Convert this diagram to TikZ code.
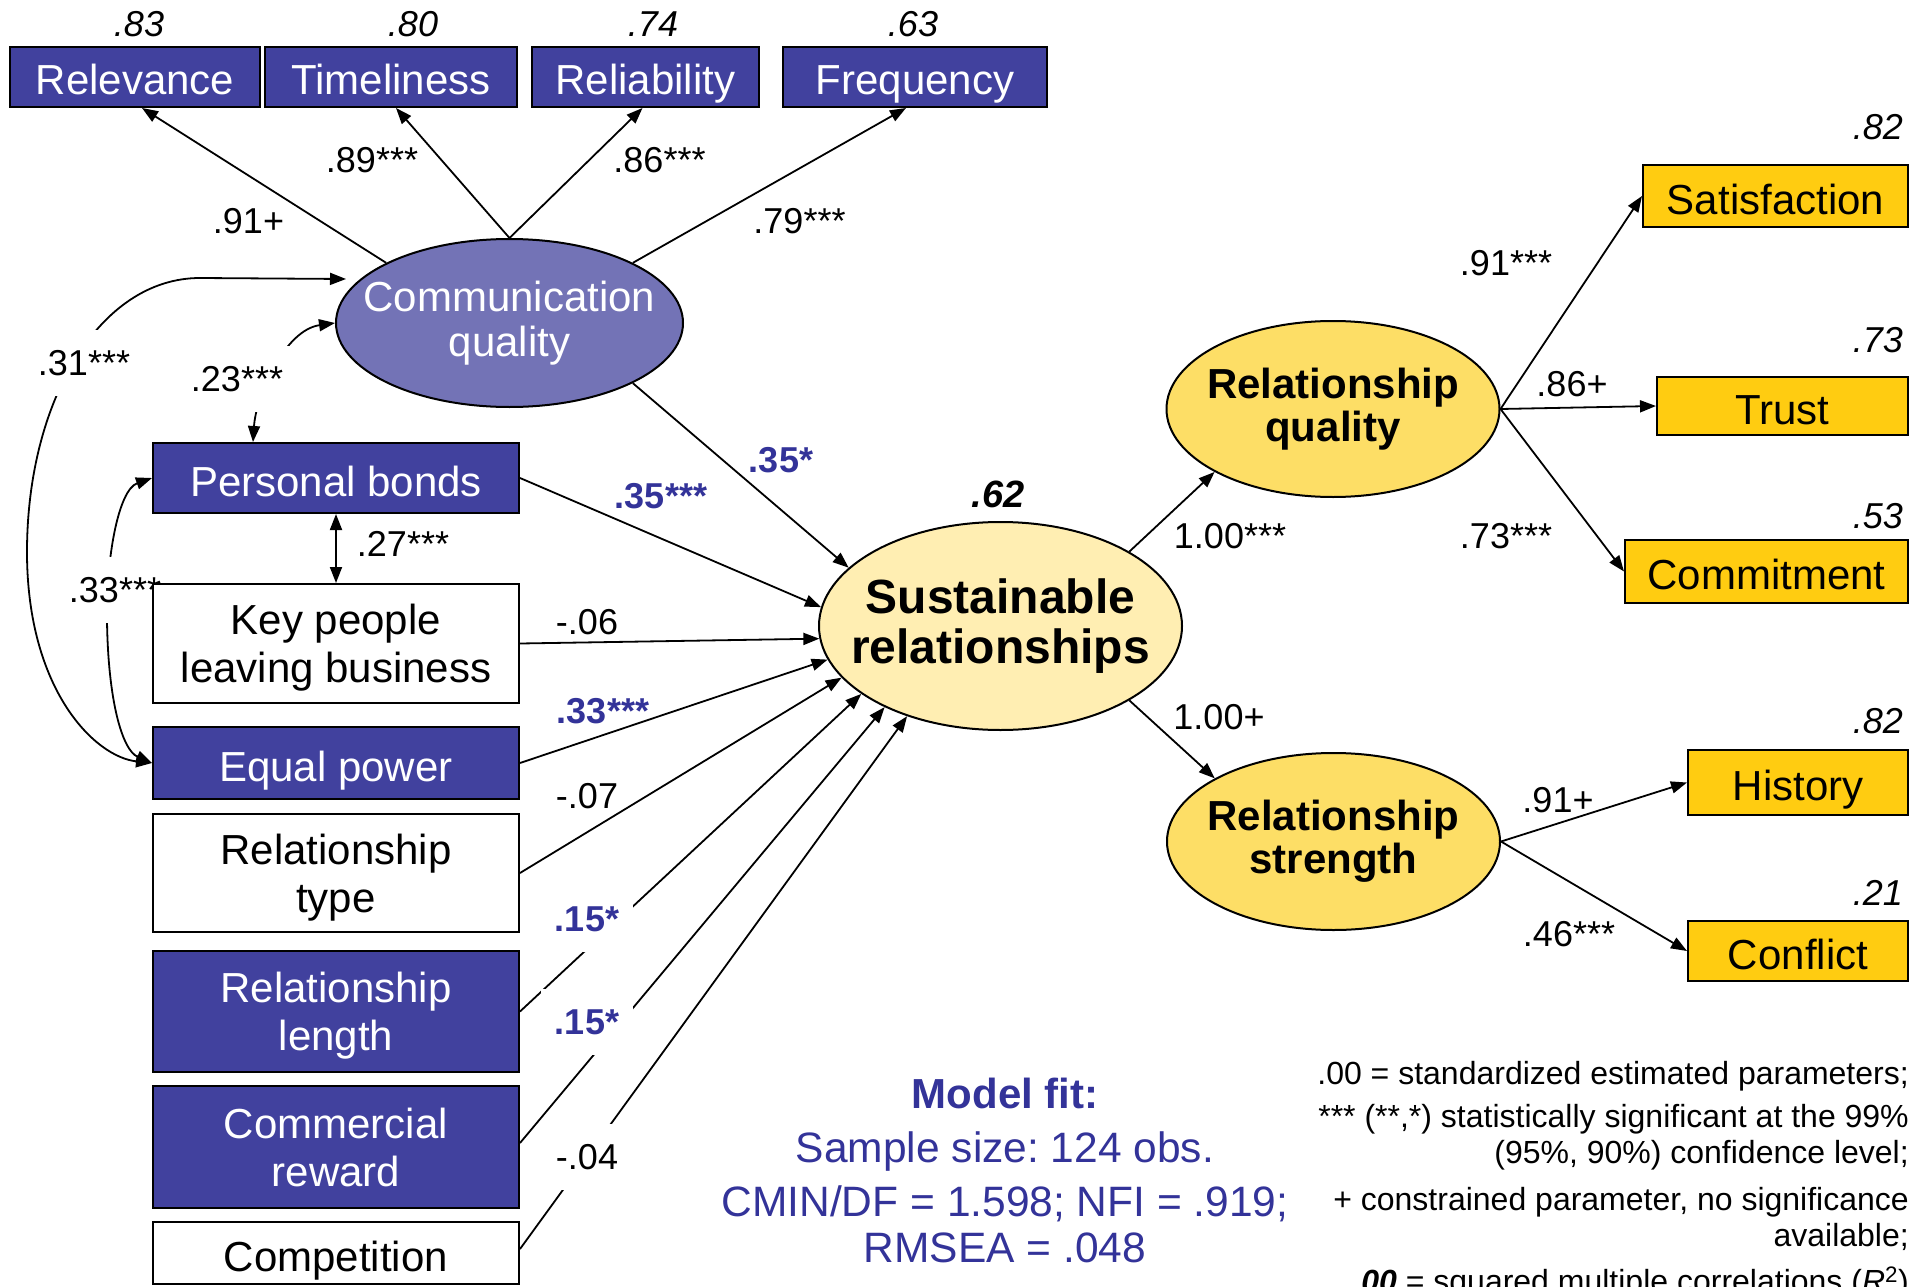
\documentclass[tikz,border=0pt]{standalone}
\usepackage{fontspec}
\setmainfont{Liberation Sans}
\usetikzlibrary{shapes.geometric,arrows.meta}
\definecolor{navy}{RGB}{65,65,158}
\definecolor{cqfill}{RGB}{115,115,182}
\definecolor{gold}{RGB}{255,204,17}
\definecolor{latfill}{RGB}{253,222,102}
\definecolor{srfill}{RGB}{255,238,178}
\definecolor{blutext}{RGB}{51,51,153}
\pgfdeclarelayer{bg}
\pgfsetlayers{bg,main}
\frenchspacing
\newcommand{\fsz}[2]{\fontsize{#1}{#2}\selectfont}
\tikzset{
  box/.style={draw=black, line width=2pt, inner sep=0pt, align=center, font=\fsz{42}{48}},
  navybox/.style={box, fill=navy, text=white},
  whitebox/.style={box, fill=white},
  goldbox/.style={box, fill=gold},
  oneline/.style={text height=36pt, text depth=0pt},
  twoline/.style={text depth=0pt},
  latent/.style={ellipse, draw=black, line width=2pt, inner sep=0pt},
  lattext/.style={align=center, inner sep=0pt},
  conn/.style={line width=1.8pt, -{Triangle[length=16pt,width=12pt]}},
  cov/.style={line width=1.8pt, {Triangle[length=16pt,width=12pt]}-{Triangle[length=16pt,width=12pt]}},
  coef/.style={font=\fsz{36}{40}, inner sep=0pt},
  sig/.style={font=\bfseries\fsz{36}{40}, text=blutext, inner sep=0pt},
  cut/.style={fill=white, inner xsep=14pt, inner ysep=20pt},
  rsq/.style={font=\itshape\fsz{36}{40}, inner sep=0pt},
  fittext/.style={font=\fsz{42.5}{46}, text=blutext, anchor=base},
  legendtxt/.style={font=\fsz{32}{36}, anchor=base east, inner sep=0pt},
}
\begin{document}
\begin{tikzpicture}[x=1pt,y=-1pt]
\useasboundingbox (0,0) rectangle (1923,1287);
\clip (0,0) rectangle (1923,1287);

% communication indicators
\node[navybox, oneline, minimum width=250pt, minimum height=60pt] (rel) at (135,77) {Relevance};
\node[navybox, oneline, minimum width=252pt, minimum height=60pt] (tim) at (391,77) {Timeliness};
\node[navybox, oneline, minimum width=227pt, minimum height=60pt] (reli) at (645.5,77) {Reliability};
\node[navybox, oneline, minimum width=264pt, minimum height=60pt] (freq) at (915,77) {Frequency};
\node[rsq, anchor=base] (r2rel) at (139,37) {.83};
\node[rsq, anchor=base] (r2tim) at (413,37) {.80};
\node[rsq, anchor=base] (r2reli) at (653,37) {.74};
\node[rsq, anchor=base] (r2freq) at (913,37) {.63};

% communication quality
\node[latent, fill=cqfill, minimum width=347pt, minimum height=168pt] (cq) at (509.5,323) {};
\node[lattext, text=white, font=\fsz{42}{45}] (cqt) at (cq.center) {Communication\\quality};

% antecedents
\node[navybox, oneline, minimum width=366pt, minimum height=70pt] (pb) at (336,478) {Personal bonds};
\node[whitebox, twoline, minimum width=366pt, minimum height=119pt] (kp) at (336,643.5) {Key people\\leaving business};
\node[navybox, oneline, minimum width=366pt, minimum height=72pt] (ep) at (336,763) {Equal power};
\node[whitebox, twoline, minimum width=366pt, minimum height=118pt] (rt) at (336,873) {Relationship\\type};
\node[navybox, twoline, minimum width=366pt, minimum height=121pt] (rl) at (336,1011.5) {Relationship\\length};
\node[navybox, twoline, minimum width=366pt, minimum height=122pt] (cr) at (336,1147) {Commercial\\reward};
\node[whitebox, oneline, minimum width=366pt, minimum height=62pt] (comp) at (336,1253) {Competition};

% sustainable relationships
\node[latent, fill=srfill, minimum width=363pt, minimum height=208pt] (sr) at (1000.5,626) {};
\node[lattext, font=\bfseries\fsz{48}{50}] (srt) at (sr.center) {Sustainable\\relationships};
\node[font=\bfseries\itshape\fsz{38}{40}, inner sep=0pt] (r2sr) at (998,494) {.62};

% relationship quality / strength
\node[latent, fill=latfill, minimum width=333pt, minimum height=176pt] (rq) at (1333,409) {};
\node[lattext, font=\bfseries\fsz{42}{43}] (rqt) at (rq.center) {Relationship\\quality};
\node[latent, fill=latfill, minimum width=333pt, minimum height=177pt] (rs) at (1333.5,841.5) {};
\node[lattext, font=\bfseries\fsz{42}{43}] (rst) at (rs.center) {Relationship\\strength};

% outcome indicators
\node[goldbox, oneline, minimum width=265pt, minimum height=62pt] (sat) at (1775.5,196) {Satisfaction};
\node[goldbox, oneline, minimum width=251pt, minimum height=58pt] (tru) at (1782.5,406) {Trust};
\node[goldbox, oneline, minimum width=283pt, minimum height=63pt] (com) at (1766.5,571.5) {Commitment};
\node[goldbox, oneline, minimum width=220pt, minimum height=65pt] (his) at (1798,782.5) {History};
\node[goldbox, oneline, minimum width=220pt, minimum height=60pt] (con) at (1798,951) {Conflict};
\node[rsq, anchor=base east] (r2sat) at (1903,140) {.82};
\node[rsq, anchor=base east] (r2tru) at (1903,352) {.73};
\node[rsq, anchor=base east] (r2com) at (1903,528) {.53};
\node[rsq, anchor=base east] (r2his) at (1903,733) {.82};
\node[rsq, anchor=base east] (r2con) at (1903,905) {.21};

% model fit
\node[fittext, font=\bfseries\fsz{42}{46}] (mf) at (1005,1108) {Model fit:};
\node[fittext] (mf1) at (1005,1162) {Sample size: 124 obs.};
\node[fittext] (mf2) at (1005,1216) {CMIN/DF = 1.598; NFI = .919;};
\node[fittext] (mf3) at (1005,1262) {RMSEA = .048};

% legend
\node[legendtxt] (lg1) at (1909,1084) {.00 = standardized estimated parameters;};
\node[legendtxt] (lg2) at (1909,1127) {*** (**,*) statistically significant at the 99\%};
\node[legendtxt] (lg3) at (1909,1163) {(95\%, 90\%) confidence level;};
\node[legendtxt] (lg4) at (1909,1210) {+ constrained parameter, no significance};
\node[legendtxt] (lg5) at (1909,1246) {available;};
\node[legendtxt] (lg6) at (1909,1292) {{\bfseries\itshape .00} = squared multiple correlations (\textit{R}\textsuperscript{2})};

\begin{pgfonlayer}{bg}
% measurement paths
\draw[conn] (cq.154) -- ([xshift=7pt]rel.south);
\draw[conn] (cq.north) -- ([xshift=5pt]tim.south);
\draw[conn] (cq.north) -- ([xshift=-3pt]reli.south);
\draw[conn] (cq.26) -- ([xshift=-9pt]freq.south);
% structural paths
\draw[conn] (cq.-26) -- (sr.159);
\draw[conn] (pb.east) -- (sr.174);
\draw[conn] (kp.east) -- (sr.184);
\draw[conn] (ep.east) -- (sr.191);
\draw[conn] (rt.east) -- (sr.198);
\draw[conn] (rl.east) -- (sr.206);
\draw[conn] ([yshift=4pt]cr.east) -- (sr.215);
\draw[conn] ([yshift=4pt]comp.east) -- (sr.224);
\draw[conn] (sr.30) -- (rq.208);
\draw[conn] (sr.-30) -- (rs.152);
\draw[conn] (rq.east) -- (sat.west);
\draw[conn] (rq.east) -- (tru.west);
\draw[conn] (rq.east) -- (com.west);
\draw[conn] (rs.east) -- (his.west);
\draw[conn] (rs.east) -- (con.west);
% covariances
\coordinate (cqin) at (346,279);
\draw[cov] (ep.west) .. controls (95,757) and (27,690) .. (27,552) .. controls (27,400) and (100,278) .. (200,278) -- (cqin);
\draw[cov] (pb.west) .. controls (118,490) and (106,560) .. (107,620) .. controls (108,700) and (122,750) .. (ep.west);
\draw[cov] ([xshift=-83pt]pb.north) .. controls (256,395) and (285,330) .. (cq.west);
\draw[cov] (pb.south) -- (kp.north);
% coefficients
\node[coef] (l91) at (248.5,221) {.91+};
\node[coef] (l89) at (372,160) {.89***};
\node[coef] (l86) at (659.5,160) {.86***};
\node[coef] (l79) at (799.5,221) {.79***};
\node[sig] (l35a) at (781,460) {.35*};
\node[sig] (l35b) at (661,496) {.35***};
\node[coef] (l06) at (587,622) {-.06};
\node[sig] (l33) at (603,711) {.33***};
\node[coef] (l07) at (587,796) {-.07};
\node[sig, cut] (l15a) at (587,919) {.15*};
\node[sig, cut] (l15b) at (587,1022) {.15*};
\node[coef, cut] (l04) at (587,1157) {-.04};
\node[coef] (l27) at (403,544) {.27***};
\node[coef, cut] (l33b) at (115,590) {.33***};
\node[coef, cut] (l31) at (84,363) {.31***};
\node[coef, cut] (l23) at (237,379) {.23***};
\node[coef] (l91b) at (1506,263) {.91***};
\node[coef] (l86b) at (1572,384) {.86+};
\node[coef] (l100a) at (1230,536) {1.00***};
\node[coef] (l73) at (1506,536) {.73***};
\node[coef] (l100b) at (1219,717) {1.00+};
\node[coef] (l91c) at (1558,800) {.91+};
\node[coef] (l46) at (1569,934) {.46***};
\end{pgfonlayer}
\end{tikzpicture}
\end{document}
